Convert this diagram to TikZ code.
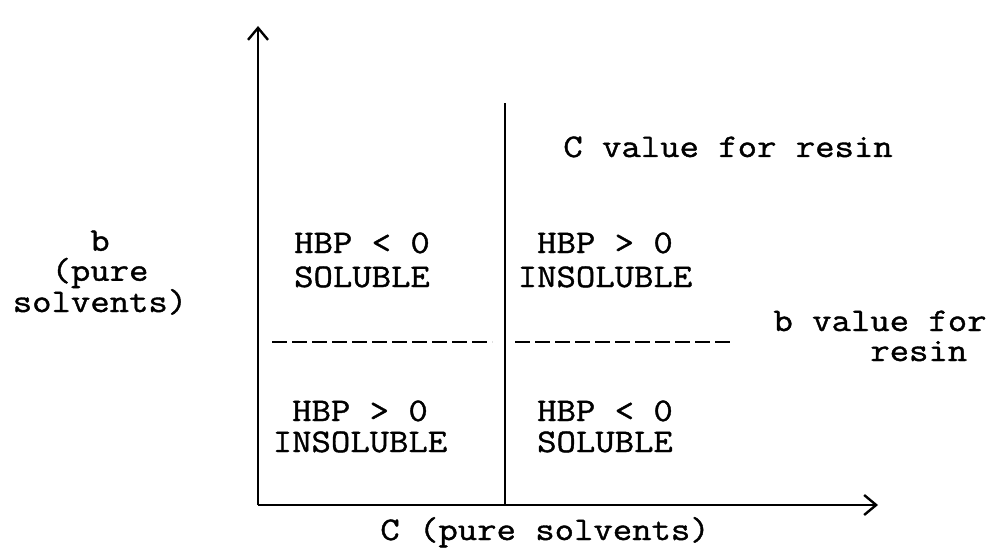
\documentclass[tikz,border=0pt]{standalone}
\usepackage{fontspec}
\newfontfamily\typewr[FakeStretch=1.14,FakeBold=1.2]{Latin Modern Mono}
\usetikzlibrary{arrows.meta}
\begin{document}
\begin{tikzpicture}[x=1pt,y=-1pt,
  lbl/.style={font=\typewr\fontsize{33}{30}\selectfont, inner sep=0pt, anchor=base},
  axis/.style={line width=2.6pt, -{Straight Barb[length=12pt,width=20pt,line width=2.4pt]}},
  divider/.style={line width=2.6pt},
  dashline/.style={line width=2.6pt, dash pattern=on 15pt off 5pt}]
\useasboundingbox (0,0) rectangle (1003,548);
\coordinate (O) at (258,505);
\coordinate (ytop) at (258,26);
\coordinate (xend) at (878,505);
\coordinate (mtop) at (505,103);
\coordinate (mbot) at (505,505);
\coordinate (d1a) at (272,342);
\coordinate (d1b) at (492,342);
\coordinate (d2a) at (515,342);
\coordinate (d2b) at (732,342);
\draw[axis] (O) -- (ytop);
\draw[axis] (O) -- (xend);
\draw[divider] (mbot) -- (mtop);
\draw[dashline] (d1a) -- (d1b);
\draw[dashline] (d2a) -- (d2b);
\node[lbl] (cres) at (728,157) {C value for resin};
\node[lbl, align=center] (bpure) at (100,312) {b\\(pure\\solvents)};
\node[lbl] (ul1) at (362,253) {HBP < 0};
\node[lbl] (ul2) at (362,287) {SOLUBLE};
\node[lbl] (ur1) at (605,253) {HBP > 0};
\node[lbl] (ur2) at (605,287) {INSOLUBLE};
\node[lbl] (ll1) at (360,421) {HBP > 0};
\node[lbl] (ll2) at (360,452) {INSOLUBLE};
\node[lbl] (lr1) at (605,421) {HBP < 0};
\node[lbl] (lr2) at (605,452) {SOLUBLE};
\node[lbl, align=left] (bres) at (880,361) {b value for\\~~~~~resin};
\node[lbl] (cpure) at (545,540) {C (pure solvents)};
\end{tikzpicture}
\end{document}
